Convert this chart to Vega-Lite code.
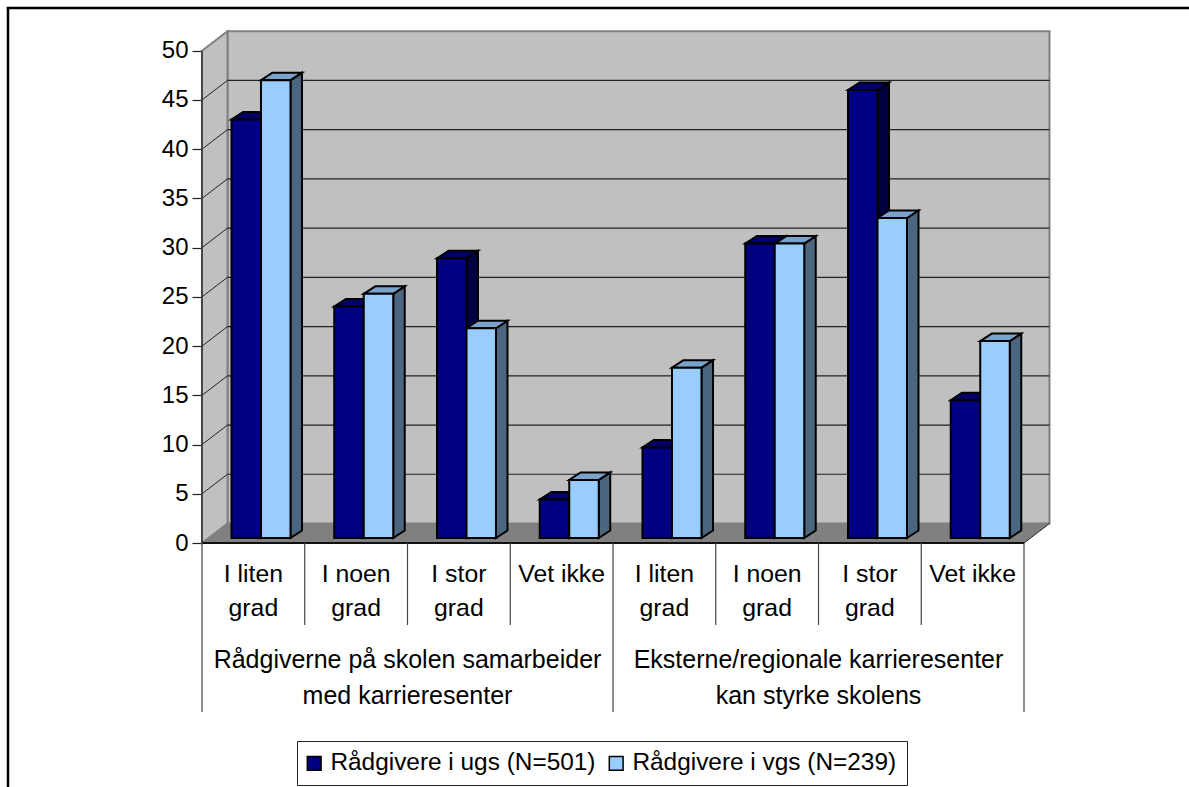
{
  "$schema": "https://vega.github.io/schema/vega-lite/v6.json",
  "autosize": "none",
  "width": 848,
  "height": 512,
  "padding": {"left": 202, "top": 31, "right": 139, "bottom": 244},
  "background": "white",
  "config": {"view": {"stroke": null}, "font": "Liberation Sans", "text": {"font": "Liberation Sans"}},
  "datasets": {
    "bars": [
      {"slot": 0, "series": "Rådgivere i ugs (N=501)", "value": 42.5},
      {"slot": 0, "series": "Rådgivere i vgs (N=239)", "value": 46.5},
      {"slot": 1, "series": "Rådgivere i ugs (N=501)", "value": 23.5},
      {"slot": 1, "series": "Rådgivere i vgs (N=239)", "value": 24.8},
      {"slot": 2, "series": "Rådgivere i ugs (N=501)", "value": 28.4},
      {"slot": 2, "series": "Rådgivere i vgs (N=239)", "value": 21.3},
      {"slot": 3, "series": "Rådgivere i ugs (N=501)", "value": 3.9},
      {"slot": 3, "series": "Rådgivere i vgs (N=239)", "value": 5.9},
      {"slot": 4, "series": "Rådgivere i ugs (N=501)", "value": 9.2},
      {"slot": 4, "series": "Rådgivere i vgs (N=239)", "value": 17.3},
      {"slot": 5, "series": "Rådgivere i ugs (N=501)", "value": 29.9},
      {"slot": 5, "series": "Rådgivere i vgs (N=239)", "value": 29.9},
      {"slot": 6, "series": "Rådgivere i ugs (N=501)", "value": 45.5},
      {"slot": 6, "series": "Rådgivere i vgs (N=239)", "value": 32.5},
      {"slot": 7, "series": "Rådgivere i ugs (N=501)", "value": 14},
      {"slot": 7, "series": "Rådgivere i vgs (N=239)", "value": 20}
    ],
    "answers": [
      {"slot": 0.5, "label": "I liten|grad"},
      {"slot": 1.5, "label": "I noen|grad"},
      {"slot": 2.5, "label": "I stor|grad"},
      {"slot": 3.5, "label": "Vet ikke"},
      {"slot": 4.5, "label": "I liten|grad"},
      {"slot": 5.5, "label": "I noen|grad"},
      {"slot": 6.5, "label": "I stor|grad"},
      {"slot": 7.5, "label": "Vet ikke"}
    ],
    "groups": [
      {"slot": 2, "label": "Rådgiverne på skolen samarbeider|med karrieresenter"},
      {"slot": 6, "label": "Eksterne/regionale karrieresenter|kan styrke skolens"}
    ],
    "ticks": [{"tick": 5}, {"tick": 10}, {"tick": 15}, {"tick": 20}, {"tick": 25}, {"tick": 30}, {"tick": 35}, {"tick": 40}, {"tick": 45}],
    "edges": [{"edge": 0}, {"edge": 1}],
    "innerDividers": [{"slot": 1}, {"slot": 2}, {"slot": 3}, {"slot": 5}, {"slot": 6}, {"slot": 7}],
    "outerDividers": [{"slot": 0}, {"slot": 4}, {"slot": 8}],
    "single": [{"id": 1}]
  },
  "layer": [
    {
      "data": {"name": "single"},
      "mark": {"type": "rule", "stroke": "#000000", "strokeWidth": 2.5},
      "encoding": {
        "x": {"datum": -1.888, "type": "quantitative", "scale": {"domain": [0, 8.253], "nice": false, "zero": false}, "axis": null},
        "y": {"datum": 54.4, "type": "quantitative", "scale": {"domain": [0, 52], "nice": false, "zero": false},
          "axis": {"values": [0, 5, 10, 15, 20, 25, 30, 35, 40, 45, 50], "title": null, "domain": false, "grid": false, "tickSize": 10, "tickColor": "#222222", "tickWidth": 1.2, "labelFont": "Liberation Sans", "labelFontSize": 24, "labelColor": "#000000", "labelPadding": 4}},
        "y2": {"datum": -25}
      }
    },
    {
      "data": {"name": "single"},
      "mark": {"type": "rule", "stroke": "#000000", "strokeWidth": 2.5},
      "encoding": {
        "x": {"datum": -1.9, "type": "quantitative", "scale": {"domain": [0, 8.253], "nice": false, "zero": false}},
        "x2": {"datum": 9.7},
        "y": {"datum": 54.34, "type": "quantitative", "scale": {"domain": [0, 52], "nice": false, "zero": false}}
      }
    },
    {
      "data": {"name": "single"},
      "mark": {"type": "rect", "fill": "#C0C0C0", "stroke": "#808080", "strokeWidth": 2},
      "encoding": {
        "x": {"datum": 0.248, "type": "quantitative", "scale": {"domain": [0, 8.253], "nice": false, "zero": false}},
        "x2": {"datum": 8.248},
        "y": {"datum": 51.98, "type": "quantitative", "scale": {"domain": [0, 52], "nice": false, "zero": false}},
        "y2": {"datum": 1.98}
      }
    },
    {
      "data": {"name": "edges"},
      "transform": [
        {"calculate": "datum.edge * 0.248", "as": "wx"},
        {"calculate": "datum.edge * 1.98", "as": "wlow"},
        {"calculate": "50 + datum.edge * 1.98", "as": "whigh"}
      ],
      "mark": {"type": "area", "fill": "#C0C0C0", "stroke": "#808080", "strokeWidth": 2, "interpolate": "linear"},
      "encoding": {
        "x": {"field": "wx", "type": "quantitative", "scale": {"domain": [0, 8.253], "nice": false, "zero": false}},
        "y": {"field": "whigh", "type": "quantitative", "stack": null, "scale": {"domain": [0, 52], "nice": false, "zero": false}},
        "y2": {"field": "wlow"}
      }
    },
    {
      "data": {"name": "edges"},
      "transform": [
        {"calculate": "datum.edge * 0.248", "as": "fx"},
        {"calculate": "8 + datum.edge * 0.248", "as": "fx2"},
        {"calculate": "datum.edge * 1.98", "as": "fy"}
      ],
      "mark": {"type": "area", "orient": "horizontal", "fill": "#808080", "interpolate": "linear"},
      "encoding": {
        "y": {"field": "fy", "type": "quantitative", "scale": {"domain": [0, 52], "nice": false, "zero": false}},
        "x": {"field": "fx", "type": "quantitative", "stack": null, "scale": {"domain": [0, 8.253], "nice": false, "zero": false}},
        "x2": {"field": "fx2"}
      }
    },
    {
      "data": {"name": "ticks"},
      "transform": [{"calculate": "datum.tick + 1.98", "as": "back"}],
      "mark": {"type": "rule", "stroke": "#222222", "strokeWidth": 1.2},
      "encoding": {
        "x": {"datum": 0.248, "type": "quantitative", "scale": {"domain": [0, 8.253], "nice": false, "zero": false}},
        "x2": {"datum": 8.248},
        "y": {"field": "back", "type": "quantitative", "scale": {"domain": [0, 52], "nice": false, "zero": false}}
      }
    },
    {
      "data": {"name": "ticks"},
      "transform": [{"calculate": "datum.tick + 1.98", "as": "back"}],
      "mark": {"type": "rule", "stroke": "#222222", "strokeWidth": 1},
      "encoding": {
        "x": {"datum": 0, "type": "quantitative", "scale": {"domain": [0, 8.253], "nice": false, "zero": false}},
        "x2": {"datum": 0.248},
        "y": {"field": "tick", "type": "quantitative", "scale": {"domain": [0, 52], "nice": false, "zero": false}},
        "y2": {"field": "back"}
      }
    },
    {
      "data": {"name": "bars"},
      "transform": [
        {"calculate": "datum.slot + 0.287 + (datum.series === 'Rådgivere i ugs (N=501)' ? 0 : 0.2871)", "as": "l"},
        {"calculate": "datum.l + 0.2871", "as": "r"},
        {"calculate": "[0, 1]", "as": "edge"},
        {"flatten": ["edge"]},
        {"calculate": "datum.r + datum.edge * 0.1119", "as": "sx"},
        {"calculate": "datum.value + 0.508 + datum.edge * 0.762", "as": "st"},
        {"calculate": "0.508 + datum.edge * 0.762", "as": "sb"}
      ],
      "mark": {"type": "area", "stroke": "#000000", "strokeWidth": 2, "interpolate": "linear"},
      "encoding": {
        "x": {"field": "sx", "type": "quantitative", "scale": {"domain": [0, 8.253], "nice": false, "zero": false}},
        "y": {"field": "st", "type": "quantitative", "stack": null, "scale": {"domain": [0, 52], "nice": false, "zero": false}},
        "y2": {"field": "sb"},
        "detail": [{"field": "slot"}, {"field": "series"}],
        "fill": {"condition": {"test": "datum.series === 'Rådgivere i ugs (N=501)'", "value": "#000040"}, "value": "#4D6680"}
      }
    },
    {
      "data": {"name": "bars"},
      "transform": [
        {"calculate": "datum.slot + 0.287 + (datum.series === 'Rådgivere i ugs (N=501)' ? 0 : 0.2871)", "as": "l"},
        {"calculate": "datum.l + 0.2871", "as": "r"},
        {"calculate": "[0, 1]", "as": "edge"},
        {"flatten": ["edge"]},
        {"calculate": "datum.l + datum.edge * 0.1119", "as": "tl"},
        {"calculate": "datum.r + datum.edge * 0.1119", "as": "tr"},
        {"calculate": "datum.value + 0.508 + datum.edge * 0.762", "as": "ty"}
      ],
      "mark": {"type": "area", "orient": "horizontal", "stroke": "#000000", "strokeWidth": 2, "interpolate": "linear"},
      "encoding": {
        "y": {"field": "ty", "type": "quantitative", "scale": {"domain": [0, 52], "nice": false, "zero": false}},
        "x": {"field": "tl", "type": "quantitative", "stack": null, "scale": {"domain": [0, 8.253], "nice": false, "zero": false}},
        "x2": {"field": "tr"},
        "detail": [{"field": "slot"}, {"field": "series"}],
        "fill": {"condition": {"test": "datum.series === 'Rådgivere i ugs (N=501)'", "value": "#000066"}, "value": "#7AA3CC"}
      }
    },
    {
      "data": {"name": "bars"},
      "transform": [
        {"calculate": "datum.slot + 0.287 + (datum.series === 'Rådgivere i ugs (N=501)' ? 0 : 0.2871)", "as": "l"},
        {"calculate": "datum.l + 0.2871", "as": "r"},
        {"calculate": "datum.value + 0.508", "as": "t"}
      ],
      "mark": {"type": "rect", "stroke": "#000000", "strokeWidth": 2},
      "encoding": {
        "x": {"field": "l", "type": "quantitative", "scale": {"domain": [0, 8.253], "nice": false, "zero": false}},
        "x2": {"field": "r"},
        "y": {"field": "t", "type": "quantitative", "scale": {"domain": [0, 52], "nice": false, "zero": false}},
        "y2": {"datum": 0.508},
        "color": {
          "field": "series",
          "type": "nominal",
          "scale": {"domain": ["Rådgivere i ugs (N=501)", "Rådgivere i vgs (N=239)"], "range": ["#000080", "#99CCFF"]},
          "legend": {
            "title": null,
            "orient": "none",
            "legendX": 95,
            "legendY": 710,
            "direction": "horizontal",
            "columns": 2,
            "columnPadding": 10,
            "padding": 10,
            "strokeColor": "#222222",
            "fillColor": "#FFFFFF",
            "symbolType": "square",
            "symbolSize": 190,
            "symbolStrokeColor": "#000000",
            "symbolStrokeWidth": 1.5,
            "symbolOpacity": 1,
            "symbolOffset": -5,
            "labelFont": "Liberation Sans",
            "labelFontSize": 24.4,
            "labelColor": "#000000",
            "labelLimit": 400,
            "labelOffset": 4
          }
        }
      }
    },
    {
      "data": {"name": "single"},
      "mark": {"type": "rule", "stroke": "#333333", "strokeWidth": 1.5},
      "encoding": {
        "x": {"datum": 0, "type": "quantitative", "scale": {"domain": [0, 8.253], "nice": false, "zero": false}},
        "y": {"datum": 0, "type": "quantitative", "scale": {"domain": [0, 52], "nice": false, "zero": false}},
        "y2": {"datum": 50}
      }
    },
    {
      "data": {"name": "edges"},
      "transform": [{"calculate": "datum.edge * 0.248 + 8", "as": "dx"}, {"calculate": "datum.edge * 1.98", "as": "dy"}],
      "mark": {"type": "line", "stroke": "#222222", "strokeWidth": 1, "interpolate": "linear"},
      "encoding": {
        "x": {"field": "dx", "type": "quantitative", "scale": {"domain": [0, 8.253], "nice": false, "zero": false}},
        "y": {"field": "dy", "type": "quantitative", "scale": {"domain": [0, 52], "nice": false, "zero": false}}
      }
    },
    {
      "data": {"name": "single"},
      "mark": {"type": "rule", "stroke": "#111111", "strokeWidth": 1.8},
      "encoding": {
        "x": {"datum": 0, "type": "quantitative", "scale": {"domain": [0, 8.253], "nice": false, "zero": false}},
        "x2": {"datum": 8},
        "y": {"datum": 0, "type": "quantitative", "scale": {"domain": [0, 52], "nice": false, "zero": false}}
      }
    },
    {
      "data": {"name": "innerDividers"},
      "mark": {"type": "rule", "stroke": "#444444", "strokeWidth": 1.2},
      "encoding": {
        "x": {"field": "slot", "type": "quantitative", "scale": {"domain": [0, 8.253], "nice": false, "zero": false}},
        "y": {"datum": 0, "type": "quantitative", "scale": {"domain": [0, 52], "nice": false, "zero": false}},
        "y2": {"datum": -8.33}
      }
    },
    {
      "data": {"name": "outerDividers"},
      "mark": {"type": "rule", "stroke": "#444444", "strokeWidth": 1.2},
      "encoding": {
        "x": {"field": "slot", "type": "quantitative", "scale": {"domain": [0, 8.253], "nice": false, "zero": false}},
        "y": {"datum": 0, "type": "quantitative", "scale": {"domain": [0, 52], "nice": false, "zero": false}},
        "y2": {"datum": -17.16}
      }
    },
    {
      "data": {"name": "answers"},
      "mark": {"type": "text", "font": "Liberation Sans", "fontSize": 24.8, "align": "center", "baseline": "alphabetic", "lineBreak": "|", "lineHeight": 34, "fill": "#000000"},
      "encoding": {
        "x": {"field": "slot", "type": "quantitative", "scale": {"domain": [0, 8.253], "nice": false, "zero": false}},
        "y": {"datum": -3.96, "type": "quantitative", "scale": {"domain": [0, 52], "nice": false, "zero": false}},
        "text": {"field": "label"}
      }
    },
    {
      "data": {"name": "groups"},
      "mark": {"type": "text", "font": "Liberation Sans", "fontSize": 25, "align": "center", "baseline": "alphabetic", "lineBreak": "|", "lineHeight": 36, "fill": "#000000"},
      "encoding": {
        "x": {"field": "slot", "type": "quantitative", "scale": {"domain": [0, 8.253], "nice": false, "zero": false}},
        "y": {"datum": -12.7, "type": "quantitative", "scale": {"domain": [0, 52], "nice": false, "zero": false}},
        "text": {"field": "label"}
      }
    }
  ]
}
